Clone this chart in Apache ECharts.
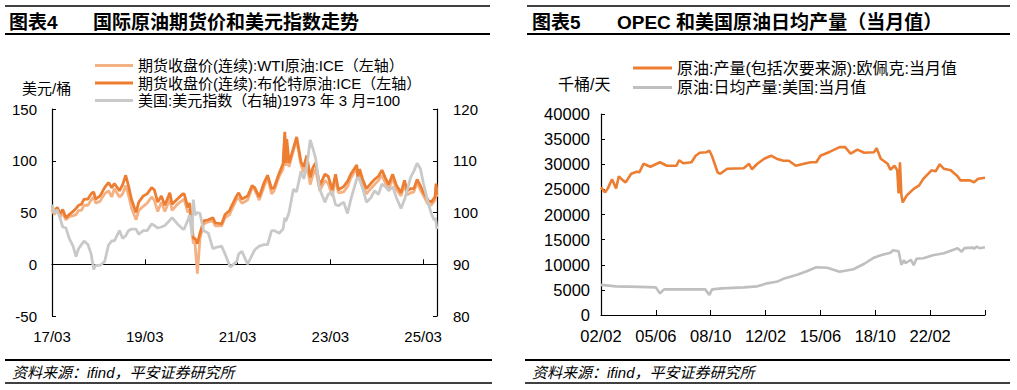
<!DOCTYPE html>
<html><head><meta charset="utf-8">
<script src="https://cdn.jsdelivr.net/npm/echarts@6/dist/echarts.min.js"></script>
<style>html,body{margin:0;padding:0;background:#fff}#c{width:1017px;height:390px}</style>
</head><body><div id="c"></div>
<script>
// ---------- Chart 4 data (left) ----------
const oilDates = ['2017-03-01','2017-03-20','2017-04-12','2017-05-05','2017-05-25','2017-06-20','2017-07-15','2017-08-15','2017-09-08','2017-09-28','2017-10-20','2017-11-10','2017-12-10',
'2018-01-05','2018-01-25','2018-02-10','2018-03-15','2018-04-20','2018-05-20','2018-06-15','2018-07-05','2018-08-15','2018-09-10','2018-10-03','2018-10-25','2018-11-20','2018-12-24',
'2019-01-15','2019-02-20','2019-03-20','2019-04-25','2019-05-15','2019-06-12','2019-07-10','2019-08-07','2019-09-16','2019-10-03','2019-11-15','2019-12-27',
'2020-01-07','2020-02-05','2020-02-20','2020-03-09','2020-03-18','2020-04-01','2020-04-20','2020-05-10','2020-06-08','2020-07-15','2020-08-20','2020-09-08','2020-10-28','2020-11-25','2020-12-31',
'2021-01-06','2021-02-25','2021-03-10','2021-04-05','2021-05-20','2021-06-25','2021-07-15','2021-08-20','2021-09-28','2021-10-25','2021-11-26','2021-12-15',
'2022-01-25','2022-02-25','2022-03-08','2022-03-16','2022-03-24','2022-04-11','2022-05-15','2022-06-10','2022-07-14','2022-08-05','2022-08-29','2022-09-26','2022-10-15','2022-11-07','2022-12-09',
'2023-01-20','2023-02-15','2023-03-17','2023-04-12','2023-05-04','2023-06-15','2023-07-15','2023-08-10','2023-09-27','2023-10-05','2023-10-19','2023-11-15','2023-12-12',
'2024-01-15','2024-02-15','2024-03-15','2024-04-12','2024-05-10','2024-06-04','2024-07-05','2024-08-05','2024-09-10','2024-10-07','2024-10-28','2024-11-25','2024-12-20',
'2025-01-15','2025-02-10','2025-03-05','2025-04-09','2025-05-05','2025-05-28','2025-06-04','2025-06-12','2025-06-18'];
const brent = [56,51,55,49,53,45,48,51,54,57,58,63,63,
68,70,63,66,74,79,74,78,71,77,86,76,62,50,
60,66,68,74,72,60,66,57,69,58,63,68,
68,55,59,35,25,25,20,30,42,43,45,40,39,48,52,
54,66,69,63,66,76,74,65,79,86,73,74,
88,97,128,98,121,98,112,123,99,94,105,84,93,98,76,
87,85,72,87,72,75,80,87,96,84,92,81,73,
78,82,85,91,83,77,87,76,69,81,71,73,73,
82,76,69,62,60,64,65,78,67];
const wti = [53,48,53,46,49,43,46,47,48,52,52,57,57,
62,65,59,61,68,71,65,73,65,68,76,67,54,43,
52,56,59,65,62,51,60,51,63,52,58,62,
63,50,53,31,21,20,-9,25,39,41,42,37,37,45,48,
50,63,64,59,62,74,72,62,75,84,68,71,
85,92,124,95,112,94,110,120,96,89,97,77,86,92,71,
81,78,66,83,69,70,75,83,93,82,89,76,68,
73,77,81,86,78,73,83,72,66,77,67,69,70,
79,72,66,58,57,61,62,75,65];
const dxy = [101.5,100.0,100.5,98.8,97.2,97.0,95.0,93.5,91.5,93.0,93.8,94.5,93.8,
92.0,89.0,89.8,89.8,90.5,93.7,94.5,94.5,96.5,95.0,95.5,96.5,96.8,96.8,
95.8,96.5,96.5,97.8,97.5,97.0,97.2,97.5,98.5,99.0,97.8,96.8,
96.8,98.5,99.5,95.5,102.5,99.5,100.0,99.8,96.5,96.0,93.0,93.2,93.5,92.0,89.7,
89.5,90.5,92.0,92.5,90.0,91.8,92.8,93.5,93.8,93.8,96.5,96.5,
96.0,96.8,99.0,98.3,98.8,100.0,104.5,104.0,108.0,106.5,108.8,114.0,112.5,110.5,104.5,
102.0,103.5,104.0,101.5,101.3,102.0,99.8,102.5,106.5,106.8,106.3,104.5,102.0,
102.8,104.2,103.5,105.5,105.0,104.2,105.0,102.8,100.8,102.5,104.2,106.8,108.0,
109.5,108.5,105.5,102.0,99.8,98.5,99.0,98.2,96.8];
const oilTickLabels = ['17/03','19/03','21/03','23/03','25/03'];

// ---------- Chart 5 data (right) ----------
const opecDates = ['2002-02','2002-05','2002-07','2002-10','2003-01','2003-03','2003-06','2003-08','2003-12','2004-04','2004-06','2004-09','2005-02','2005-09',
'2006-02','2006-09','2006-11','2007-02','2007-08','2007-11','2008-02','2008-07','2008-09','2008-11','2009-03','2009-05','2009-10','2010-10',
'2011-02','2011-04','2011-08','2012-01','2012-06','2012-10','2013-03','2013-07','2013-12','2014-06','2014-11','2015-03','2015-06','2016-01',
'2016-08','2016-12','2017-04','2017-09','2018-02','2018-09','2018-11','2019-02','2019-07','2019-09','2019-12','2020-02','2020-03','2020-04',
'2020-05','2020-06','2020-09','2021-02','2021-06','2021-09','2022-03','2022-06','2022-09','2022-12','2023-05','2023-10','2023-12','2024-07',
'2024-10','2025-01','2025-06'];
const opec = [25400,24400,25200,27000,25200,27600,26800,26400,28100,28500,28400,30100,29500,30400,
29700,29700,30800,30200,30400,31700,32300,32400,32700,31600,28400,28100,29100,29200,
30100,29000,30100,31100,31700,31100,30700,30700,29700,30100,30400,30400,31700,32500,
33400,33400,32100,32900,32300,32400,33200,31100,30100,28900,29700,28800,24200,30400,
24000,22400,23800,25100,25800,27100,28800,28600,30000,29100,28800,27600,26800,26800,
26400,27100,27300];
const usDates = ['2002-02','2002-06','2003-01','2004-06','2005-06','2005-09','2005-12','2006-06','2008-06','2008-09','2008-11','2009-06','2010-10',
'2011-08','2012-03','2012-10','2013-03','2014-01','2014-08','2015-03','2015-11','2016-08','2017-06','2018-02','2018-09','2019-02','2019-09',
'2019-11','2020-03','2020-05','2020-07','2020-08','2020-12','2021-02','2021-04','2021-09','2022-04','2022-12','2023-06','2023-10','2024-01',
'2024-03','2024-09','2024-10','2024-12','2025-02','2025-06'];
const us = [6000,5900,5700,5600,5500,4300,5100,5100,5100,4000,5100,5300,5500,
5700,6300,6600,7200,8000,8700,9500,9400,8600,9100,10200,11400,11900,12400,
12900,12700,10000,10900,10300,11000,9900,11200,11300,11900,12300,12900,13300,12600,
13300,13400,13200,13600,13300,13500];
const prodTickLabels = ['02/02','05/06','08/10','12/02','15/06','18/10','22/02'];

// months elapsed since a base month (used as the x value on a value axis)
function monthIndex(s, y0, m0) {
  const p = s.split('-').map(Number);
  return (p[0] - y0) * 12 + (p[1] - m0) + ((p[2] || 1) - 1) / 31;
}
const pair = (dates, vals, y0, m0) => dates.map((d, i) => [monthIndex(d, y0, m0), vals[i]]);

const FONT = "'Liberation Sans', 'Noto Sans CJK SC', sans-serif";
const BLACK = '#000';
const axisLine = {show: true, onZero: false, lineStyle: {color: BLACK, width: 1.2}};

const chart = echarts.init(document.getElementById('c'), null, {renderer: 'svg'});

function hline(x1, x2, y, w) {
  return {type: 'line', shape: {x1, y1: y, x2, y2: y}, style: {stroke: BLACK, lineWidth: w}, silent: true};
}
function txt(x, y, text, font) {
  return {type: 'text', x, y, silent: true,
    style: {text, font, fill: BLACK, textAlign: 'left', textVerticalAlign: 'middle', align: 'left', verticalAlign: 'middle'}};
}

const option = {
  animation: false,
  textStyle: {fontFamily: FONT, color: BLACK},
  grid: [
    {left: 52, right: 580, top: 109, bottom: 74},
    {left: 601, right: 32, top: 114, bottom: 75}
  ],
  legend: [
    {left: 90, top: 53, orient: 'vertical', itemWidth: 38, itemHeight: 3, itemGap: 2.5, icon: 'rect',
     textStyle: {fontSize: 15, lineHeight: 15, fontFamily: FONT, color: BLACK},
     data: ['期货收盘价(连续):WTI原油:ICE（左轴）', '期货收盘价(连续):布伦特原油:ICE（左轴）', '美国:美元指数（右轴)1973 年 3 月=100']},
    {left: 628, top: 55, orient: 'vertical', itemWidth: 39, itemHeight: 3, itemGap: 3.5, icon: 'rect',
     textStyle: {fontSize: 16, lineHeight: 16, fontFamily: FONT, color: BLACK},
     data: ['原油:产量(包括次要来源):欧佩克:当月值', '原油:日均产量:美国:当月值']}
  ],
  xAxis: [
    {gridIndex: 0, type: 'value', min: 0, max: 99.6, interval: 24, position: 'bottom',
     axisLine: {show: false, onZero: false}, axisTick: {show: false}, splitLine: {show: false},
     axisLabel: {margin: 13, fontSize: 15, color: BLACK, fontFamily: FONT, showMaxLabel: false,
       formatter: v => oilTickLabels[Math.round(v / 24)] || ''}},
    {gridIndex: 0, type: 'value', min: 0, max: 99.6, interval: 24, position: 'bottom',
     axisLine: {show: true, onZero: true, onZeroAxisIndex: 0, lineStyle: {color: BLACK, width: 1.2}},
     axisTick: {show: true, inside: true, length: 5, lineStyle: {color: BLACK}},
     axisLabel: {show: false}, splitLine: {show: false}},
    {gridIndex: 1, type: 'value', min: 0, max: 280, interval: 40, position: 'bottom',
     axisLine: axisLine,
     axisTick: {show: true, inside: true, length: 5, lineStyle: {color: BLACK}},
     splitLine: {show: false},
     axisLabel: {margin: 13, fontSize: 16.5, color: BLACK, fontFamily: FONT,
       formatter: v => (v < 280 ? (prodTickLabels[Math.round(v / 40)] || '') : '')}}
  ],
  yAxis: [
    {gridIndex: 0, type: 'value', min: -50, max: 150, interval: 50, position: 'left',
     axisLine: axisLine, axisTick: {show: true, inside: true, length: 4, lineStyle: {color: BLACK}},
     splitLine: {show: false}, axisLabel: {margin: 15, fontSize: 15, color: BLACK, fontFamily: FONT}},
    {gridIndex: 0, type: 'value', min: 80, max: 120, interval: 10, position: 'right',
     axisLine: axisLine, axisTick: {show: true, inside: true, length: 4, lineStyle: {color: BLACK}},
     splitLine: {show: false}, axisLabel: {margin: 16, fontSize: 15, color: BLACK, fontFamily: FONT}},
    {gridIndex: 1, type: 'value', min: 0, max: 40000, interval: 5000, position: 'left',
     axisLine: axisLine, axisTick: {show: true, inside: true, length: 4, lineStyle: {color: BLACK}},
     splitLine: {show: false},
     axisLabel: {margin: 11, fontSize: 16.5, color: BLACK, fontFamily: FONT, formatter: v => String(v)}}
  ],
  series: [
    {name: '期货收盘价(连续):WTI原油:ICE（左轴）', type: 'line', xAxisIndex: 0, yAxisIndex: 0, showSymbol: false,
     color: '#F4B183', lineStyle: {width: 2.8, color: '#F4B183'}, data: pair(oilDates, wti, 2017, 3)},
    {name: '期货收盘价(连续):布伦特原油:ICE（左轴）', type: 'line', xAxisIndex: 0, yAxisIndex: 0, showSymbol: false,
     color: '#ED7D31', lineStyle: {width: 2.8, color: '#ED7D31'}, data: pair(oilDates, brent, 2017, 3)},
    {name: '美国:美元指数（右轴)1973 年 3 月=100', type: 'line', xAxisIndex: 0, yAxisIndex: 1, showSymbol: false,
     color: '#C9C9C9', lineStyle: {width: 2.8, color: '#C9C9C9'}, data: pair(oilDates, dxy, 2017, 3)},
    {name: '原油:产量(包括次要来源):欧佩克:当月值', type: 'line', xAxisIndex: 2, yAxisIndex: 2, showSymbol: false,
     color: '#ED7D31', lineStyle: {width: 2.6, color: '#ED7D31'}, data: pair(opecDates, opec, 2002, 2)},
    {name: '原油:日均产量:美国:当月值', type: 'line', xAxisIndex: 2, yAxisIndex: 2, showSymbol: false,
     color: '#BFBFBF', lineStyle: {width: 2.6, color: '#BFBFBF'}, data: pair(usDates, us, 2002, 2)}
  ],
  graphic: [
    hline(5, 490, 6, 1.5), hline(5, 490, 34, 2),
    hline(527, 1010, 6, 1.5), hline(527, 1010, 34, 2),
    hline(5, 492, 360, 2), hline(5, 492, 383, 1.5),
    hline(525, 1010, 360, 2), hline(525, 1010, 383, 1.5),
    txt(9, 22, '图表4', 'bold 19px ' + FONT),
    txt(93, 22, '国际原油期货价和美元指数走势', 'bold 19px ' + FONT),
    txt(532, 22, '图表5', 'bold 19px ' + FONT),
    txt(617, 22, 'OPEC 和美国原油日均产量（当月值）', 'bold 19px ' + FONT),
    txt(22, 88, '美元/桶', '15px ' + FONT),
    txt(558, 84, '千桶/天', '16px ' + FONT),
    txt(12, 372, '资料来源：ifind，平安证券研究所', 'italic 15px ' + FONT),
    txt(532, 372, '资料来源：ifind，平安证券研究所', 'italic 15px ' + FONT)
  ]
};
chart.setOption(option);
</script></body></html>
